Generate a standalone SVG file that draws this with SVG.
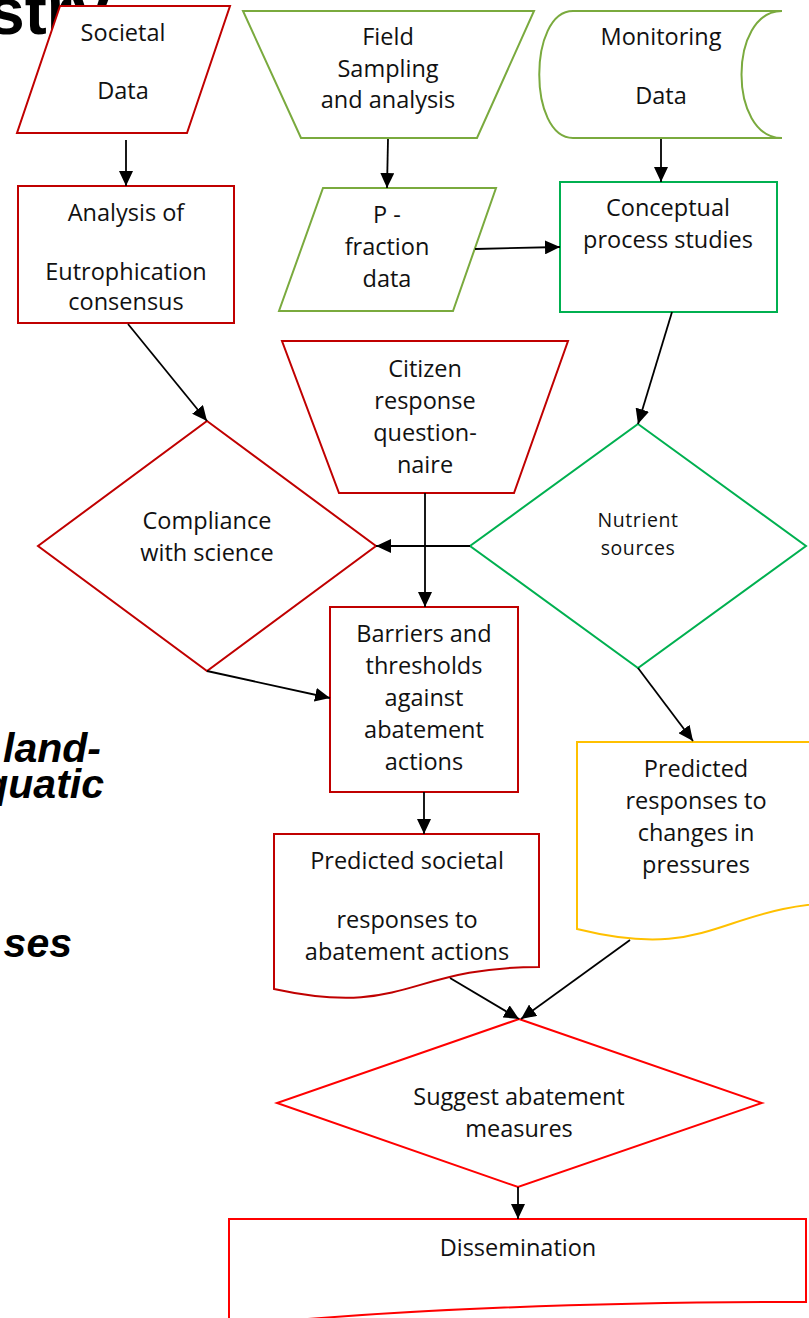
<svg xmlns="http://www.w3.org/2000/svg" width="809" height="1318" viewBox="0 0 809 1318">
  <defs>
    <marker id="arrow" markerUnits="userSpaceOnUse" markerWidth="16" markerHeight="14" refX="15" refY="7" orient="auto">
      <path d="M0,0 L15,7 L0,14 Z" fill="#000"/>
    </marker>
    <style>
      .lbl { font-family: "Open Sans", "Noto Sans", sans-serif; font-size: 23.5px; fill: #111; text-anchor: middle; }
      .small { font-size: 19.5px; letter-spacing: 0.6px; }
      .bg { font-family: "Liberation Sans", Arial, sans-serif; font-weight: bold; fill: #000; text-anchor: end; }
      .bgi { font-family: "Liberation Sans", Arial, sans-serif; font-weight: bold; font-style: italic; font-size: 41px; fill: #000; text-anchor: end; }
      .shape { fill: #fff; stroke-width: 2; stroke-linejoin: miter; }
      .dred { stroke: #C00000; }
      .red { stroke: #FF0000; }
      .olive { stroke: #7AAA3E; }
      .green { stroke: #00B050; }
      .yellow { stroke: #FFC000; }
      .conn { stroke: #000; stroke-width: 1.8; fill: none; marker-end: url(#arrow); }
    </style>
  </defs>

  <!-- background slide lettering -->
  <g id="background-text">
    <text class="bg" x="109" y="34" font-size="66">stry</text>
    <text class="bgi" x="101" y="762">land-</text>
    <text class="bgi" x="104" y="798">quatic</text>
    <text class="bgi" x="72" y="957">ses</text>
  </g>

  <!-- inputs -->
  <g id="societal-data">
    <polygon class="shape dred" points="60,6 230,6 187,133 17,133"/>
    <text class="lbl" x="123" y="41">Societal</text>
    <text class="lbl" x="123" y="99">Data</text>
  </g>

  <g id="field-sampling">
    <polygon class="shape olive" points="243,11 534,11 477,138 301,138"/>
    <text class="lbl" x="388" y="45">Field</text>
    <text class="lbl" x="388" y="77">Sampling</text>
    <text class="lbl" x="388" y="108">and analysis</text>
  </g>

  <g id="monitoring-data">
    <path class="shape olive" d="M782,11 H573 C528,11 528,138 573,138 H782 C728,138 728,11 782,11 Z"/>
    <text class="lbl" x="661" y="45">Monitoring</text>
    <text class="lbl" x="661" y="104">Data</text>
  </g>

  <!-- second row -->
  <g id="analysis">
    <rect class="shape dred" x="18" y="186" width="216" height="137"/>
    <text class="lbl" x="126" y="221">Analysis of</text>
    <text class="lbl" x="126" y="280">Eutrophication</text>
    <text class="lbl" x="126" y="310">consensus</text>
  </g>

  <g id="p-fraction">
    <polygon class="shape olive" points="323,188 496,188 453,311 279,311"/>
    <text class="lbl" x="387" y="223">P -</text>
    <text class="lbl" x="387" y="255">fraction</text>
    <text class="lbl" x="387" y="287">data</text>
  </g>

  <g id="conceptual">
    <rect class="shape green" x="560" y="182" width="217" height="130"/>
    <text class="lbl" x="668" y="216">Conceptual</text>
    <text class="lbl" x="668" y="248">process studies</text>
  </g>

  <!-- third row -->
  <g id="citizen">
    <polygon class="shape dred" points="282,341 568,341 514,493 339,493"/>
    <text class="lbl" x="425" y="377">Citizen</text>
    <text class="lbl" x="425" y="409">response</text>
    <text class="lbl" x="425" y="441">question-</text>
    <text class="lbl" x="425" y="473">naire</text>
  </g>

  <g id="compliance">
    <polygon class="shape dred" points="207,421 376,546 207,671 38,546"/>
    <text class="lbl" x="207" y="529">Compliance</text>
    <text class="lbl" x="207" y="561">with science</text>
  </g>

  <g id="nutrient">
    <polygon class="shape green" points="638,424 806,546 638,668 470,546"/>
    <text class="lbl small" x="638" y="527">Nutrient</text>
    <text class="lbl small" x="638" y="555">sources</text>
  </g>

  <g id="barriers">
    <rect class="shape dred" x="330" y="607" width="188" height="185"/>
    <text class="lbl" x="424" y="642">Barriers and</text>
    <text class="lbl" x="424" y="674">thresholds</text>
    <text class="lbl" x="424" y="706">against</text>
    <text class="lbl" x="424" y="738">abatement</text>
    <text class="lbl" x="424" y="770">actions</text>
  </g>

  <!-- predicted outcomes (document shapes) -->
  <g id="predicted-pressures">
    <path class="shape yellow" d="M577,742 H857 V902 C717,902 717,963.5 577,929 Z"/>
    <text class="lbl" x="696" y="777">Predicted</text>
    <text class="lbl" x="696" y="809">responses to</text>
    <text class="lbl" x="696" y="841">changes in</text>
    <text class="lbl" x="696" y="873">pressures</text>
  </g>

  <g id="predicted-societal">
    <path class="shape dred" d="M274,834 H539 V967 C406.5,967 406.5,1017.8 274,989 Z"/>
    <text class="lbl" x="407" y="869">Predicted societal</text>
    <text class="lbl" x="407" y="928">responses to</text>
    <text class="lbl" x="407" y="960">abatement actions</text>
  </g>

  <!-- outcome -->
  <g id="suggest">
    <polygon class="shape red" points="519,1019 762,1103 518,1187 277,1103"/>
    <text class="lbl" x="519" y="1105">Suggest abatement</text>
    <text class="lbl" x="519" y="1137">measures</text>
  </g>

  <g id="dissemination">
    <path class="shape red" d="M229,1219 H806 V1302 C620,1302 420,1307 229,1326 Z"/>
    <text class="lbl" x="518" y="1256">Dissemination</text>
  </g>

  <!-- connectors -->
  <g id="connectors">
    <line class="conn" x1="126" y1="140" x2="126" y2="186"/>
    <line class="conn" x1="388" y1="139" x2="387" y2="188"/>
    <line class="conn" x1="661" y1="139" x2="661" y2="182"/>
    <line class="conn" x1="475" y1="249" x2="560" y2="247"/>
    <line class="conn" x1="128" y1="324" x2="207" y2="421"/>
    <line class="conn" x1="672" y1="312" x2="638" y2="424"/>
    <line class="conn" x1="470" y1="546" x2="376" y2="546"/>
    <line class="conn" x1="425" y1="493" x2="425" y2="607"/>
    <line class="conn" x1="207" y1="671" x2="330" y2="698"/>
    <line class="conn" x1="638" y1="668" x2="693" y2="741"/>
    <line class="conn" x1="424" y1="792" x2="424" y2="834"/>
    <line class="conn" x1="450" y1="978" x2="519" y2="1019"/>
    <line class="conn" x1="630" y1="940" x2="521" y2="1019"/>
    <line class="conn" x1="518" y1="1187" x2="518" y2="1219"/>
  </g>
</svg>
